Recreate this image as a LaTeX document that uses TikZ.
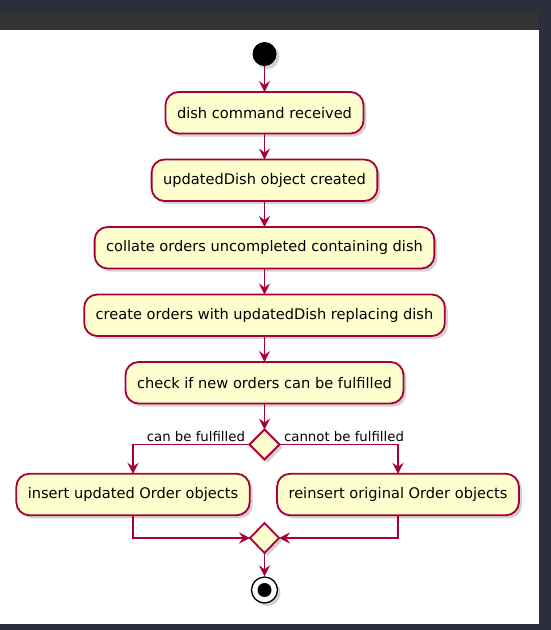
\documentclass[tikz,border=0pt]{standalone}
\usepackage{fontspec}
\setmainfont{DejaVu Sans}
\usetikzlibrary{positioning,shapes.geometric,shadows,arrows.meta}
\definecolor{umlred}{HTML}{A80036}
\definecolor{umlfill}{HTML}{FEFECE}
\definecolor{frame}{HTML}{2B2D3D}
\definecolor{band}{HTML}{333333}
\tikzset{
  act/.style={draw=umlred, fill=umlfill, line width=1.8pt, rounded corners=13pt,
    minimum height=41.5pt, inner xsep=11.5pt, outer sep=0pt, font=\fontsize{14.6}{17}\selectfont,
    drop shadow={shadow xshift=3pt, shadow yshift=-3pt, opacity=.35}},
  branch/.style={diamond, draw=umlred, fill=umlfill, line width=1.8pt, inner sep=0pt, outer sep=0pt,
    minimum width=30pt, minimum height=30pt,
    drop shadow={shadow xshift=3pt, shadow yshift=-3pt, opacity=.35}},
  flow/.style={->, draw=umlred, line width=1.3pt},
  guard/.style={font=\fontsize{13.3}{15}\selectfont},
}
\begin{document}
\begin{tikzpicture}[x=1pt, y=-1pt, >={Stealth[length=11pt,width=11pt,inset=4pt]}]
% page frame
\fill[frame] (0,0) rectangle (551,630);
\fill[band] (0,11) rectangle (539,30);
\fill[white] (0,30) rectangle (539,624);
\useasboundingbox (0,0) rectangle (551,630);
% activities
\node[circle, fill=black, minimum size=24pt, inner sep=0pt, outer sep=0pt,
  drop shadow={shadow xshift=3pt, shadow yshift=-3pt, opacity=.35}] (start) at (264.5,54) {};
\node[act, below=26pt of start] (recv) {dish command received};
\node[act, below=26pt of recv] (made) {updatedDish object created};
\node[act, below=26pt of made] (coll) {collate orders uncompleted containing dish};
\node[act, below=26pt of coll] (repl) {create orders with updatedDish replacing dish};
\node[act, below=26pt of repl] (chk) {check if new orders can be fulfilled};
\node[branch, below=26pt of chk] (split) {};
\node[act] (ins) at (133,494.5) {insert updated Order objects};
\node[act] (rein) at (398,494.5) {reinsert original Order objects};
\node[branch, minimum width=29pt] (merge) at (264.5,538) {};
\node[circle, draw=black, fill=white, line width=1.3pt, minimum size=26pt, inner sep=0pt,
  drop shadow={shadow xshift=3pt, shadow yshift=-3pt, opacity=.35}] (stop) at (264.5,590) {};
\fill[black] (stop.center) circle (7pt);
% connectors
\draw[flow] (start) -- (recv);
\draw[flow] (recv) -- (made);
\draw[flow] (made) -- (coll);
\draw[flow] (coll) -- (repl);
\draw[flow] (repl) -- (chk);
\draw[flow] (chk) -- (split);
\draw[flow] (split.west) -| (ins);
\draw[flow] (split.east) -| (rein);
\node[guard, anchor=base east, xshift=-1pt, yshift=3pt] (yes) at (split.west) {can be fulfilled};
\node[guard, anchor=base west, xshift=1pt, yshift=3pt] (no) at (split.east) {cannot be fulfilled};
\draw[flow] (ins) |- (merge);
\draw[flow] (rein) |- (merge);
\draw[flow] (merge) -- (stop);
\end{tikzpicture}
\end{document}
